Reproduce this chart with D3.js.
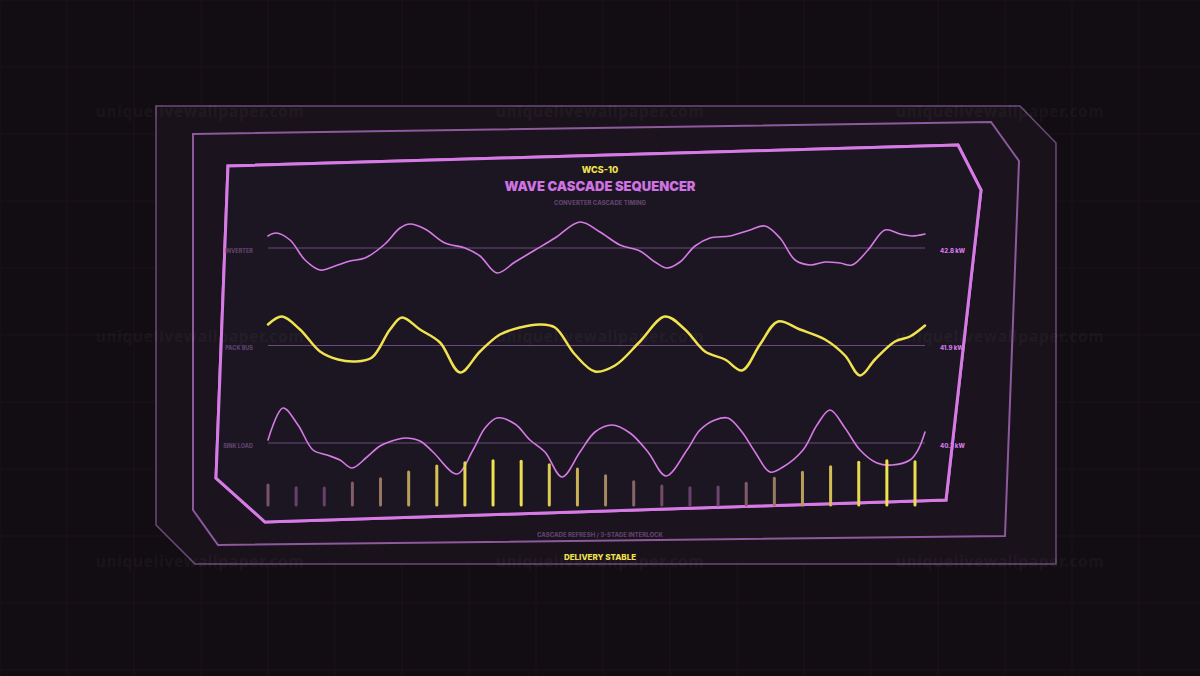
<!DOCTYPE html>
<html><head><meta charset="utf-8">
<script src="https://cdn.jsdelivr.net/npm/d3@7"></script>
<style>
html,body{margin:0;padding:0;background:#120d12;overflow:hidden}
svg{display:block}
</style></head>
<body>
<svg id="c" width="1200" height="676"></svg>
<script>
// ---------- DATA ----------
const title = "WAVE CASCADE SEQUENCER";
const code = "WCS-10";
const subtitle = "CONVERTER CASCADE TIMING";
const footer = "CASCADE REFRESH / 3-STAGE INTERLOCK";
const status = "DELIVERY STABLE";
const rowNames = ["INVERTER", "PACK BUS", "SINK LOAD"];
const rowReadouts = ["42.8 kW", "41.9 kW", "40.7 kW"];
// time (ms) and deviation values per channel
const inverterT = [0,8,22,37,52,67,82,97,117,132,142,157,177,197,212,229,247,267,287,312,332,352,372,387,399,412,427,442,462,482,497,512,527,542,557,572,584,600,617,632,644,657];
const inverterV = [12,15,8,-12,-22,-18,-13,-10,4,20,24,19,5,0,-8,-25,-14,-2,10,26,16,3,-3,-14,-20,-14,2,10,12,18,22,10,-12,-17,-14,-15,-17,-2,18,14,12,14];
const packBusT = [0,14,32,52,70,87,104,122,134,152,172,192,212,232,252,272,287,307,327,347,372,397,417,437,457,474,492,510,532,557,577,592,607,627,642,657];
const packBusV = [21,29,16,-6,-14,-16,-12,16,28,16,3,-27,-6,11,18,21,18,-9,-26,-20,4,29,16,-6,-14,-25,1,24,16,6,-10,-30,-14,4,9,20];
const sinkLoadT = [0,15,30,45,59,72,84,99,112,127,137,152,165,189,205,217,229,247,262,277,294,312,327,344,362,380,398,419,432,447,460,474,487,502,515,535,549,562,577,592,609,624,642,650,657];
const sinkLoadV = [3,35,18,-7,-12,-17,-25,-14,-3,3,5,2,-9,-31,-7,15,25,19,3,-9,-34,-9,11,18,10,-9,-33,-7,13,23,25,11,-9,-29,-24,-7,18,33,15,-7,-20,-22,-17,-7,11];
const markerT = [552, 446, 342];
const cadenceLevels = [20,17.3,17,22,26.3,33,39,42.3,44.3,43.7,40.3,36,29.3,23.3,19,17.3,18,21.7,26.7,32.7,38.3,42.7,44.3,43.3];
const watermark = "uniquelivewallpaper.com";

// ---------- DRAW ----------
const svg = d3.select("#c");
const PINK = "#d67ae5", YELLOW = "#f1e24f", DIM = "#6b4a79", DIMTXT = "#5f426c";
const FONT = "Inter, 'Noto Sans', 'DejaVu Sans', sans-serif";

const defs = svg.append("defs");
const glow = defs.append("filter").attr("id","glow").attr("x","-200%").attr("y","-20%").attr("width","500%").attr("height","140%");
glow.append("feGaussianBlur").attr("stdDeviation",2.2).attr("result","b");
const fm = glow.append("feMerge"); fm.append("feMergeNode").attr("in","b"); fm.append("feMergeNode").attr("in","SourceGraphic");
const soft = defs.append("filter").attr("id","soft").attr("x","-10%").attr("y","-10%").attr("width","120%").attr("height","120%");
soft.append("feGaussianBlur").attr("stdDeviation",0.6).attr("result","b");
const fm2 = soft.append("feMerge"); fm2.append("feMergeNode").attr("in","b"); fm2.append("feMergeNode").attr("in","SourceGraphic");

// background grid
const gx = d3.range(0, 1201, 67), gy = d3.range(0, 677, 67);
svg.append("g").selectAll("line.v").data(gx).join("line")
  .attr("x1",d=>d).attr("x2",d=>d).attr("y1",0).attr("y2",676).attr("stroke","#1b151b").attr("stroke-width",1);
svg.append("g").selectAll("line.h").data(gy).join("line")
  .attr("y1",d=>d).attr("y2",d=>d).attr("x1",0).attr("x2",1200).attr("stroke","#1b151b").attr("stroke-width",1);

const line = d3.line().curve(d3.curveLinearClosed);
// outer panel
svg.append("path").attr("d", line([[156,106],[1020,106],[1056,143],[1056,564],[195,564],[156,525]]))
  .attr("fill","#1a121b").attr("stroke","#6c4a7a").attr("stroke-width",1.5);
// middle frame
svg.append("path").attr("d", line([[193,134],[991,122],[1019,161],[1005,536],[218,545],[193,510]]))
  .attr("fill","#1b131d").attr("stroke","#8c5a9c").attr("stroke-width",2);
// inner frame
svg.append("path").attr("d", line([[228,166],[958,145],[981,190],[946,500],[265,522],[216,478]]))
  .attr("fill","#1d1420").attr("stroke",PINK).attr("stroke-width",3).attr("filter","url(#soft)");

// watermarks
const wmPos = [];
[113,338,563].forEach(y=>[200,600,1000].forEach(x=>wmPos.push([x,y])));
svg.append("g").selectAll("text").data(wmPos).join("text")
  .attr("x",d=>d[0]).attr("y",d=>d[1]+4).attr("text-anchor","middle")
  .attr("font-family","'Noto Sans', sans-serif").attr("font-weight",700).attr("font-size",15.5).attr("letter-spacing",0.7)
  .attr("fill","#ffffff").attr("fill-opacity",0.05).text(watermark);

// titles
svg.append("text").attr("x",600).attr("y",172.5).attr("text-anchor","middle").attr("font-family",FONT)
  .attr("font-weight",800).attr("font-size",9).attr("fill",YELLOW).text(code);
svg.append("text").attr("x",600).attr("y",190.5).attr("text-anchor","middle").attr("font-family",FONT)
  .attr("font-weight",900).attr("font-size",13).attr("fill","#cf72e2").text(title);
svg.append("text").attr("x",600).attr("y",205).attr("text-anchor","middle").attr("font-family",FONT)
  .attr("font-weight",800).attr("font-size",6).attr("fill",DIMTXT).text(subtitle);

// scales
const x = d3.scaleLinear().domain([0,657]).range([268,925]);
const rowY = d3.scalePoint().domain(rowNames).range([248,443]);
const series = [
  {name:rowNames[0], t:inverterT, v:inverterV, color:PINK, w:1.6},
  {name:rowNames[1], t:packBusT, v:packBusV, color:YELLOW, w:2.5},
  {name:rowNames[2], t:sinkLoadT, v:sinkLoadV, color:PINK, w:1.6}
];
series.forEach((s,i)=>{
  const base = rowY(s.name);
  const y = d3.scaleLinear().domain([-30,30]).range([base+30, base-30]);
  const g = svg.append("g");
  g.append("line").attr("x1",x(0)).attr("x2",x(657)).attr("y1",base).attr("y2",base)
    .attr("stroke",DIM).attr("stroke-width",1.2);
  const pts = s.t.map((t,k)=>[t,s.v[k]]);
  g.append("path").datum(pts)
    .attr("d", d3.line().x(d=>x(d[0])).y(d=>y(d[1])).curve(d3.curveCatmullRom.alpha(0.5)))
    .attr("fill","none").attr("stroke",s.color).attr("stroke-width",s.w).attr("stroke-linecap","round");
  g.append("text").attr("x",253).attr("y",base+4.5).attr("text-anchor","end").attr("font-family",FONT)
    .attr("font-weight",800).attr("font-size",5.5).attr("fill",DIMTXT).text(s.name);
  g.append("text").attr("x",940).attr("y",base+4.5).attr("text-anchor","start").attr("font-family",FONT)
    .attr("font-weight",800).attr("font-size",6).attr("fill",PINK).text(rowReadouts[i]);
  g.append("line").attr("x1",x(markerT[i])).attr("x2",x(markerT[i])).attr("y1",y(36)).attr("y2",y(-37))
    .attr("stroke",YELLOW).attr("stroke-width",2.4).attr("filter","url(#glow)");
});

// cadence bars
const bx = d3.scalePoint().domain(d3.range(cadenceLevels.length)).range([268,915]);
const by = d3.scaleLinear().domain([0,50]).range([505,455]);
const bc = d3.scaleLinear().domain([17,44.3]).range(["#6a3f6c","#f2e24e"]).interpolate(d3.interpolateRgb);
svg.append("g").selectAll("line").data(cadenceLevels).join("line")
  .attr("x1",(d,i)=>bx(i)).attr("x2",(d,i)=>bx(i)).attr("y1",by(0)).attr("y2",d=>by(d))
  .attr("stroke",d=>bc(d)).attr("stroke-width",3).attr("stroke-linecap","round");

// footer
svg.append("text").attr("x",600).attr("y",537).attr("text-anchor","middle").attr("font-family",FONT)
  .attr("font-weight",800).attr("font-size",6).attr("fill",DIMTXT).text(footer);
svg.append("text").attr("x",600).attr("y",559.5).attr("text-anchor","middle").attr("font-family",FONT)
  .attr("font-weight",800).attr("font-size",8).attr("fill",YELLOW).text(status);
</script>
</body></html>
